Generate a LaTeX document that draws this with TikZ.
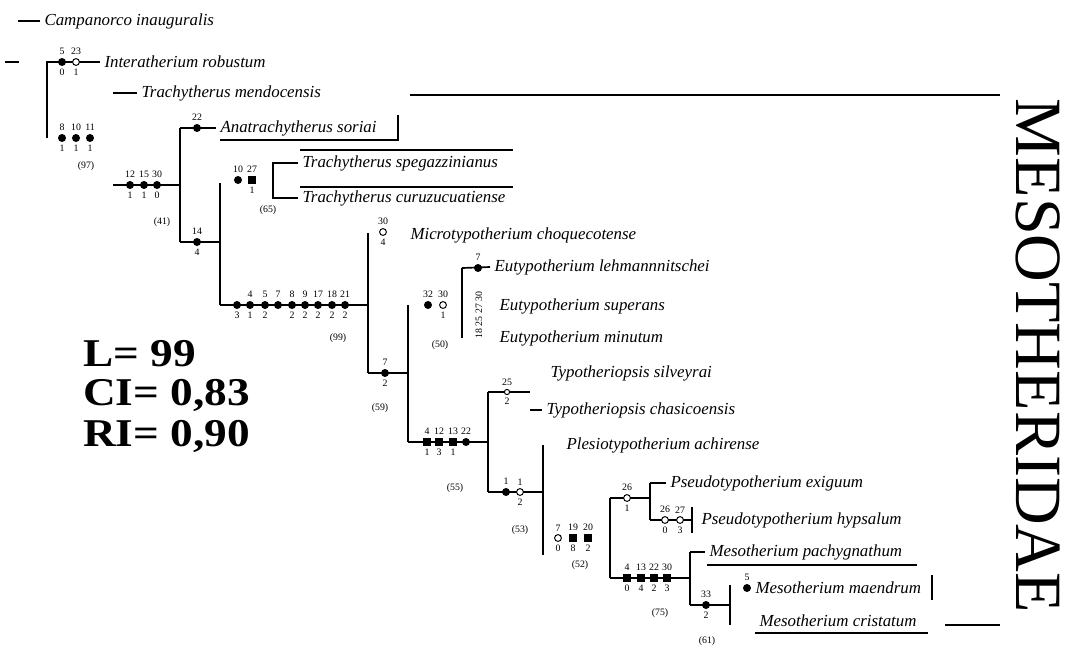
\documentclass[tikz,border=0pt]{standalone}
\usepackage{fontspec}
\setmainfont{Liberation Serif}
\usetikzlibrary{positioning}

\begin{document}
\begin{tikzpicture}[x=0.025cm, y=-0.025cm,
  taxon/.style={anchor=west, inner sep=0pt, inner xsep=3pt, font=\fontsize{12}{13}\selectfont\itshape},
  br/.style={line width=1.2pt},
  rule/.style={line width=0.9pt},
  syn/.style={circle, fill, inner sep=0pt, minimum size=2mm},
  hom/.style={circle, draw, line width=0.7pt, fill=white, inner sep=0pt, minimum size=1.7mm},
  sqr/.style={rectangle, fill, inner sep=0pt, minimum size=1.9mm},
  every label/.style={font=\fontsize{7}{7}\selectfont, inner sep=0pt},
  label distance=0.7mm,
  supp/.style={font=\fontsize{7}{8}\selectfont, inner sep=0pt},
  stat/.style={anchor=west, inner sep=0pt, font=\fontsize{28}{30}\selectfont\bfseries},
  fam/.style={rotate=-90, inner sep=0pt, font=\fontsize{47}{47}\selectfont}]
\useasboundingbox (0,0) rectangle (1073,652);

% outgroups
\coordinate (root0) at (5,62);
\coordinate (root1) at (19,62);
\draw[br] (root0) -- (root1);
\node[taxon] (campa) at (40,21) {Campanorco inauguralis};
\coordinate (campa0) at (18,21);
\draw[br] (campa0) -- (campa.west);
\coordinate (n0) at (47,138);
\node[taxon] (inter) at (100,62) {Interatherium robustum};
\draw[br] (n0) |- (inter.west);
\node[syn, label=above:5, label=below:0] (o1) at (62,62) {};
\node[hom, label=above:23, label=below:1] (o2) at (76,62) {};
\node[syn, label=above:8, label=below:1] (o3) at (62,138) {};
\node[syn, label=above:10, label=below:1] (o4) at (76,138) {};
\node[syn, label=above:11, label=below:1] (o5) at (90,138) {};
\node[supp] (s97) at (86,166) {(97)};

% Mesotheriidae
\node[taxon] (mendo) at (137,93) {Trachytherus mendocensis};
\coordinate (mendo0) at (113,93);
\draw[br] (mendo0) -- (mendo.west);
\coordinate (a0) at (113,185);
\coordinate (a1) at (180,185);
\draw[br] (a0) -- (a1);
\node[syn, label=above:12, label=below:1] (ma1) at (130,185) {};
\node[syn, label=above:15, label=below:1] (ma2) at (144,185) {};
\node[syn, label=above:30, label=below:0] (ma3) at (157,185) {};
\node[supp] (s41) at (162,222) {(41)};
\coordinate (a2) at (180,128);
\coordinate (a3) at (180,242);
\draw[br] (a2) -- (a3);
\node[taxon] (anat) at (216,128) {Anatrachytherus soriai};
\draw[br] (a2) -- (anat.west);
\node[syn, label=above:22] (mb1) at (197,128) {};
\draw[rule] (220,140) -- (398,140) -- (398,115);

\coordinate (b0) at (220,183);
\coordinate (b1) at (220,305);
\coordinate (b2) at (220,242);
\draw[br] (a3) -- (b2);
\draw[br] (b0) -- (b1);
\node[syn, label=above:14, label=below:4] (mc1) at (197,242) {};

% Trachytherus pair
\node[taxon] (spega) at (298,163) {Trachytherus spegazzinianus};
\node[taxon] (curu) at (298,198) {Trachytherus curuzucuatiense};
\coordinate (tr0) at (273,163);
\coordinate (tr1) at (273,198);
\draw[br] (spega.west) -- (tr0) -- (tr1) -- (curu.west);
\draw[rule] (300,150) -- (513,150);
\draw[rule] (300,187) -- (513,187);
\node[syn, label=above:10] (md1) at (238,180) {};
\node[sqr, label=above:27, label=below:1] (md2) at (252,180) {};
\node[supp] (s65) at (268,210) {(65)};

% node with nine synapomorphies
\coordinate (c0) at (368,305);
\draw[br] (b1) -- (c0);
\foreach \x/\u/\d [count=\i] in {237//3, 250/4/1, 265/5/2, 278/7/, 292/8/2, 305/9/2, 318/17/2, 332/18/2, 345/21/2}
  \node[syn, label=above:\u, label=below:\d] (me\i) at (\x,305) {};
\node[supp] (s99) at (338,338) {(99)};
\coordinate (c1) at (368,233);
\coordinate (c2) at (368,373);
\draw[br] (c1) -- (c2);
\node[hom, label=above:30, label=below:4] (mf1) at (383,232) {};
\node[taxon] (micro) at (406,235) {Microtypotherium choquecotense};

\coordinate (d0) at (408,373);
\draw[br] (c2) -- (d0);
\node[syn, label=above:7, label=below:2] (mg1) at (385,373) {};
\node[supp] (s59) at (380,408) {(59)};
\coordinate (d1) at (408,305);
\coordinate (d2) at (408,442);
\draw[br] (d1) -- (d2);

% Eutypotherium
\node[syn, label=above:32] (mh1) at (428,305) {};
\node[hom, label=above:30, label=below:1] (mh2) at (443,305) {};
\node[supp] (s50) at (440,345) {(50)};
\coordinate (eu0) at (462,268);
\coordinate (eu1) at (462,338);
\draw[br] (eu0) -- (eu1);
\node[taxon] (lehm) at (490,267) {Eutypotherium lehmannnitschei};
\draw[br] (eu0) -- (lehm.west);
\node[syn, label=above:7] (mi1) at (478,268) {};
\node[supp, rotate=90] (mi2) at (479,315) {18 25 27 30};
\node[taxon] (super) at (495,306) {Eutypotherium superans};
\node[taxon] (minut) at (495,338) {Eutypotherium minutum};

% node (55)
\coordinate (e0) at (488,442);
\draw[br] (d2) -- (e0);
\node[sqr, label=above:4, label=below:1] (mj1) at (427,442) {};
\node[sqr, label=above:12, label=below:3] (mj2) at (439,442) {};
\node[sqr, label=above:13, label=below:1] (mj3) at (453,442) {};
\node[syn, label=above:22] (mj4) at (466,442) {};
\node[supp] (s55) at (455,488) {(55)};
\coordinate (e1) at (488,392);
\coordinate (e2) at (488,492);
\draw[br] (e1) -- (e2);
\coordinate (e3) at (530,392);
\draw[br] (e1) -- (e3);
\node[hom, minimum size=1.3mm, label=above:25, label=below:2] (mk1) at (507,392) {};
\node[taxon] (silv) at (546,373) {Typotheriopsis silveyrai};
\coordinate (chasi0) at (530,410);
\node[taxon] (chasi) at (542,410) {Typotheriopsis chasicoensis};
\draw[br] (chasi0) -- (chasi.west);

% node (53)
\coordinate (f0) at (543,492);
\draw[br] (e2) -- (f0);
\node[syn, label=above:1] (ml1) at (506,492) {};
\node[hom, label=above:1, label=below:2] (ml2) at (520,492) {};
\node[supp] (s53) at (520,530) {(53)};
\coordinate (f1) at (543,445);
\coordinate (f2) at (543,555);
\draw[br] (f1) -- (f2);
\node[taxon] (plesi) at (562,445) {Plesiotypotherium achirense};

\node[hom, label=above:7, label=below:0] (mm1) at (558,538) {};
\node[sqr, label=above:19, label=below:8] (mm2) at (573,538) {};
\node[sqr, label=above:20, label=below:2] (mm3) at (588,538) {};
\node[supp] (s52) at (580,565) {(52)};

% Pseudotypotherium + Mesotherium
\coordinate (g0) at (610,498);
\coordinate (g1) at (610,578);
\draw[br] (g0) -- (g1);
\coordinate (g2) at (650,498);
\draw[br] (g0) -- (g2);
\node[hom, label=above:26, label=below:1] (mn1) at (627,498) {};
\coordinate (g3) at (650,483);
\coordinate (g4) at (650,520);
\draw[br] (g3) -- (g4);
\node[taxon] (exig) at (666,483) {Pseudotypotherium exiguum};
\draw[br] (g3) -- (exig.west);
\coordinate (g5) at (692,520);
\draw[br] (g4) -- (g5);
\node[hom, label=above:26, label=below:0] (mo1) at (665,520) {};
\node[hom, label=above:27, label=below:3] (mo2) at (680,520) {};
\draw[rule] (692,507) -- (692,533);
\node[taxon] (hyps) at (697,520) {Pseudotypotherium hypsalum};

\coordinate (h0) at (690,578);
\draw[br] (g1) -- (h0);
\node[sqr, label=above:4, label=below:0] (mp1) at (627,578) {};
\node[sqr, label=above:13, label=below:4] (mp2) at (641,578) {};
\node[sqr, label=above:22, label=below:2] (mp3) at (654,578) {};
\node[sqr, label=above:30, label=below:3] (mp4) at (667,578) {};
\node[supp] (s75) at (660,613) {(75)};
\coordinate (h1) at (690,552);
\coordinate (h2) at (690,605);
\draw[br] (h1) -- (h2);
\node[taxon] (pachy) at (705,552) {Mesotherium pachygnathum};
\draw[br] (h1) -- (pachy.west);
\draw[rule] (707,565) -- (917,565);
\coordinate (h3) at (730,605);
\draw[br] (h2) -- (h3);
\node[syn, label=above:33, label=below:2] (mq1) at (706,605) {};
\node[supp] (s61) at (707,641) {(61)};
\draw[rule] (730,585) -- (730,625);
\node[syn, label=above:5] (mr1) at (747,588) {};
\node[taxon] (maend) at (751,588) {Mesotherium maendrum};
\draw[rule] (932,575) -- (932,600);
\node[taxon] (crist) at (755,621) {Mesotherium cristatum};
\draw[rule] (755,633) -- (928,633);

% family bracket
\draw[rule] (410,95) -- (1000,95);
\draw[rule] (945,625) -- (1000,625);
\node[fam] (fam) at (1038,356) {MESOTHERIDAE};

% tree statistics
\node[stat] (len) at (83,354) {\scalebox{1.15}[1]{L= 99}};
\node[stat] (ci) at (83,395) {\scalebox{1.15}[1]{CI= 0,83}};
\node[stat] (ri) at (83,436) {\scalebox{1.15}[1]{RI= 0,90}};
\end{tikzpicture}
\end{document}
